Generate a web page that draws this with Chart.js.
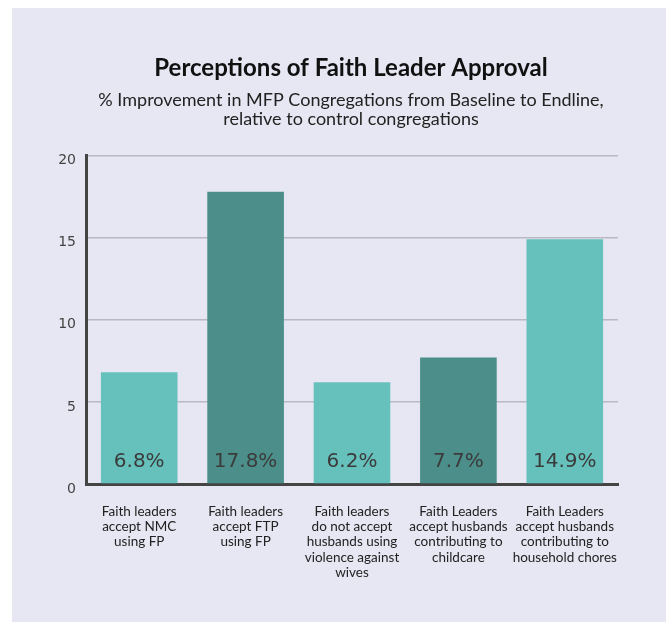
<!DOCTYPE html>
<html>
<head>
<meta charset="utf-8">
<script src="https://cdn.jsdelivr.net/npm/chart.js@4.4.1/dist/chart.umd.min.js"></script>
<style>
  html, body { margin: 0; padding: 0; background: #ffffff; }
  #panel {
    position: absolute; left: 12px; top: 8px;
    width: 654px; height: 614px;
    background: #e7e7f3;
  }
</style>
</head>
<body>
<div id="panel"><canvas id="faithChart" width="654" height="614"></canvas></div>
<script>
const categories = [
  ["Faith leaders", "accept NMC", "using FP"],
  ["Faith leaders", "accept FTP", "using FP"],
  ["Faith leaders", "do not accept", "husbands using", "violence against", "wives"],
  ["Faith Leaders", "accept husbands", "contributing to", "childcare"],
  ["Faith Leaders", "accept husbands", "contributing to", "household chores"]
];
const improvement = [6.8, 17.8, 6.2, 7.7, 14.9];
const valueLabels = ["6.8%", "17.8%", "6.2%", "7.7%", "14.9%"];
const yTicks = [0, 5, 10, 15, 20];

const barColors = ["#66c0bc", "#4b8e8a", "#66c0bc", "#4b8e8a", "#66c0bc"];

// text inside the bars, near the base
const valueLabelPlugin = {
  id: "valueLabels",
  afterDatasetsDraw(chart) {
    const ctx = chart.ctx;
    const meta = chart.getDatasetMeta(0);
    const base = chart.scales.y.getPixelForValue(0);
    ctx.save();
    ctx.font = "20px 'DejaVu Sans'";
    ctx.fillStyle = "#3b3b3b";
    ctx.textAlign = "center";
    ctx.textBaseline = "middle";
    meta.data.forEach((bar, i) => {
      ctx.fillText(valueLabels[i], bar.x, base - 22);
    });
    ctx.restore();
  }
};

// title + subtitle are centred a bit right of the layout box in the original
const shiftTitles = {
  id: "shiftTitles",
  afterLayout(chart) {
    chart.boxes.forEach((b) => {
      if (!b.axis && b.options && b.options.text) {
        b.left += 25;
        b.right += 25;
      }
    });
  }
};

const config = {
  type: "bar",
  data: {
    labels: categories,
    datasets: [
      {
        data: improvement,
        backgroundColor: barColors,
        barPercentage: 0.9,
        categoryPercentage: 0.8,
      },
    ],
  },
  options: {
    responsive: false,
    animation: false,
    layout: { padding: { left: 22, right: 48, top: 0, bottom: 0 } },
    plugins: {
      legend: { display: false },
      tooltip: { enabled: false },
      title: {
        display: true,
        text: "Perceptions of Faith Leader Approval",
        color: "#111111",
        font: { family: "Lato", size: 24, weight: "bold" },
        padding: { top: 46, bottom: 8 },
      },
      subtitle: {
        display: true,
        text: [
          "% Improvement in MFP Congregations from Baseline to Endline,",
          "relative to control congregations",
        ],
        color: "#222222",
        font: { family: "Lato", size: 18, lineHeight: 1.05 },
        padding: { top: 0, bottom: 27 },
      },
    },
    scales: {
      x: {
        grid: { display: false, drawTicks: false },
        border: { display: true, color: "#444444", width: 3 },
        ticks: {
          color: "#222222",
          font: { family: "Lato", size: 13.5, lineHeight: 1.13 },
          padding: 20,
          maxRotation: 0,
          autoSkip: false,
        },
        afterFit(scale) { scale.height = 138; },
      },
      y: {
        min: 0,
        max: 20,
        afterBuildTicks(scale) { scale.ticks = yTicks.map((v) => ({ value: v })); },
        grid: {
          color: (c) => (c.tick && c.tick.value === 0 ? "rgba(0,0,0,0)" : "#b9b9c4"),
          lineWidth: 1.5,
          drawTicks: false,
        },
        border: { display: true, color: "#444444", width: 3 },
        ticks: {
          color: "#444444",
          font: { family: "DejaVu Sans", size: 14 },
          padding: 10,
          labelOffset: 5,
        },
        afterFit(scale) { scale.width = 52; },
      },
    },
  },
  plugins: [valueLabelPlugin, shiftTitles],
};

let faithChart = new Chart(document.getElementById("faithChart"), config);
</script>
</body>
</html>
